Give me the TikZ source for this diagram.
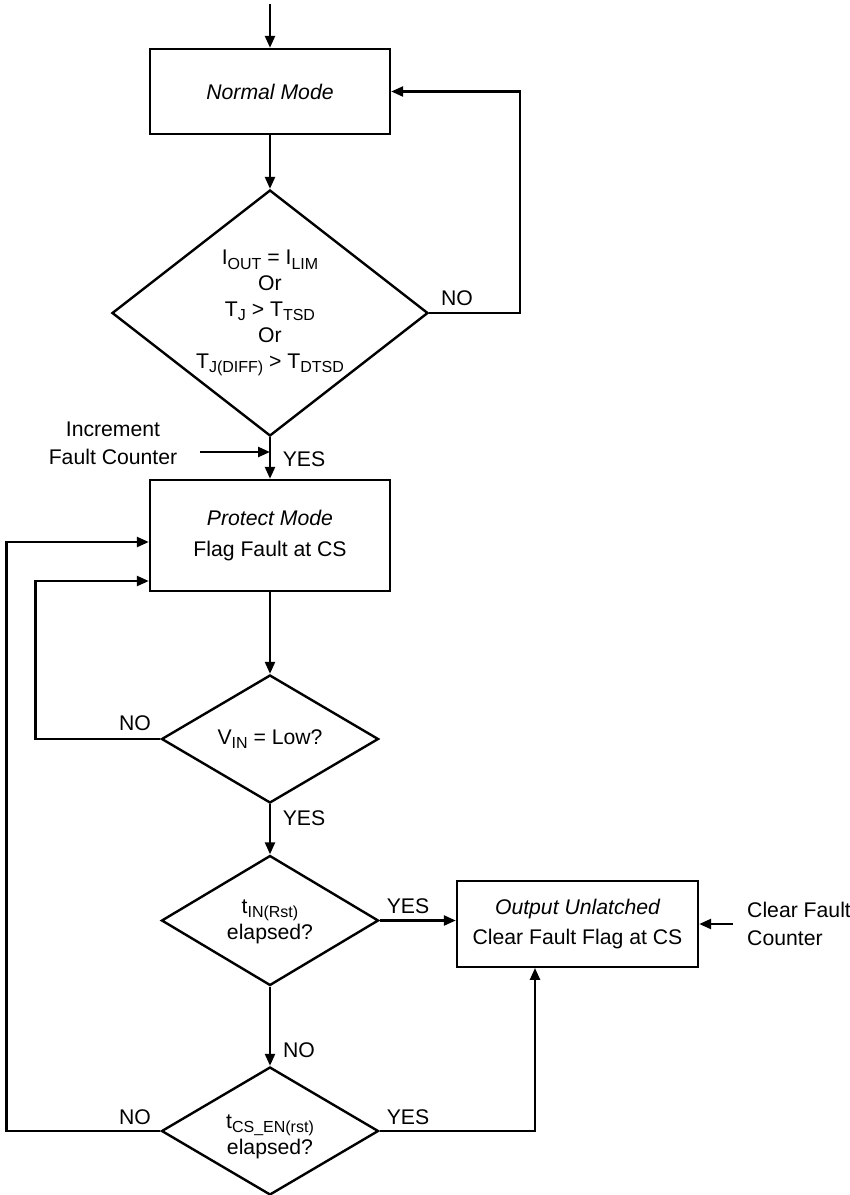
\documentclass[tikz,border=0pt]{standalone}
\usepackage{fontspec}
\setmainfont{Liberation Sans}
\usetikzlibrary{arrows.meta,shapes.geometric}
\newcommand\sbs[1]{\raisebox{-2.2pt}{\fontsize{8}{9}\selectfont #1}}
\begin{document}
\begin{tikzpicture}[x=0.5pt,y=-0.5pt,
  font=\fontsize{10.6}{12.9}\selectfont,
  line width=1.2pt,
  arr/.style={-{Triangle[length=6pt,width=5pt]}},
  box/.style={draw, rectangle, inner sep=0pt, align=center},
  dia/.style={draw, diamond, inner sep=0pt, aspect=1},
  txt/.style={align=center, inner sep=1pt}]
\useasboundingbox (0,0) rectangle (850,1195);

% nodes
\coordinate (start) at (270,4);
\node[box, minimum width=120pt, minimum height=42.5pt] (normal) at (270,91.5) {\itshape Normal Mode};
\node[dia, minimum width=158pt, minimum height=123pt] (d1) at (270,313) {};
\node[txt] (d1t) at (270,313) {I\sbs{OUT} = I\sbs{LIM}\\Or\\T\sbs{J} > T\sbs{TSD}\\Or\\T\sbs{J(DIFF)} > T\sbs{DTSD}};
\node[txt] (no1) at (457,298) {NO};

\node[txt, font=\fontsize{10.6}{14}\selectfont] (inc) at (113,443) {Increment\\Fault Counter};
\coordinate (incs) at (200,452);
\coordinate (ince) at (270,452);
\node[txt] (yes1) at (304,459) {YES};

\node[box, minimum width=120pt, minimum height=55.5pt, font=\fontsize{10.6}{15.5}\selectfont] (protect) at (270,535.5) {\itshape Protect Mode\\Flag Fault at CS};

\node[dia, minimum width=108.5pt, minimum height=64pt] (d2) at (270,739) {};
\node[txt] (d2t) at (270,739) {V\sbs{IN} = Low?};
\node[txt] (no2) at (135,723) {NO};
\node[txt] (yes2) at (304,818) {YES};

\node[dia, minimum width=108.5pt, minimum height=65pt] (d3) at (270,920.5) {};
\node[txt, font=\fontsize{10.6}{13.2}\selectfont] (d3t) at (270,922) {t\sbs{IN(Rst)}\\elapsed?};
\node[txt] (yes3) at (408,906) {YES};

\node[box, minimum width=120.5pt, minimum height=42.75pt, font=\fontsize{10.6}{14.75}\selectfont] (out) at (577.5,924) {\itshape Output Unlatched\\Clear Fault Flag at CS};
\node[align=left, anchor=west, inner sep=0pt, font=\fontsize{10.6}{13.8}\selectfont] (clr) at (746,924) {Clear Fault\\Counter};
\coordinate (clrs) at (733,924);

\node[txt] (no3) at (299,1050) {NO};
\node[dia, minimum width=108.5pt, minimum height=64pt] (d4) at (270,1131) {};
\node[txt, font=\fontsize{10.6}{13.2}\selectfont] (d4t) at (270,1137) {t\sbs{CS\_EN(rst)}\\elapsed?};
\node[txt] (yes4) at (408,1117) {YES};
\node[txt] (no4) at (135,1117) {NO};

% connectors
\draw[arr] (start) -- (normal.north);
\draw[arr] (normal.south) -- (d1.north);
\draw[arr] (d1.east) -- ++(91,0) |- (normal.east);
\draw[arr] (d1.south) -- (protect.north);
\draw[arr] (incs) -- (ince);
\draw[arr] (protect.south) -- (d2.north);
\draw[arr] (d2.west) -- ++(-125,0) |- (protect.west |- 0,581);
\draw[arr] (d2.south) -- (d3.north);
\draw[arr] (d3.east) -- (out.west |- d3.east);
\draw[arr] (clrs) -- (out.east);
\draw[arr] (d3.south) -- (d4.north);
\draw[arr] (d4.east) -| ([xshift=-21.25pt]out.south);
\draw[arr] (d4.west) -- ++(-154,0) |- (protect.west |- 0,542);
\end{tikzpicture}
\end{document}
